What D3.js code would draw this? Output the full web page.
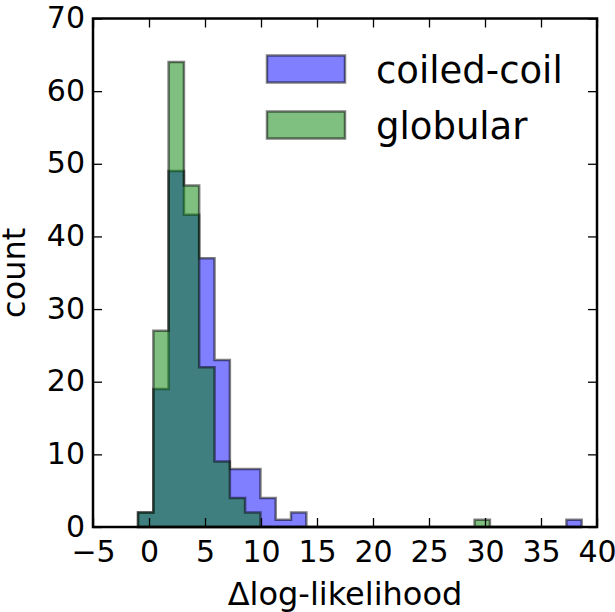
<!DOCTYPE html>
<html>
<head>
<meta charset="utf-8">
<script src="https://cdn.jsdelivr.net/npm/d3@7"></script>
<style>
  body { margin: 0; background: #fff; }
  text { font-family: "DejaVu Sans", sans-serif; fill: #000; }
</style>
</head>
<body>
<div id="chart"></div>
<script>
var width = 615;
var height = 612;
var margin = { top: 18.5, right: 18, bottom: 85, left: 93 };

// histogram bin edges (shared by both series)
var binEdges = [-0.98, 0.39, 1.75, 3.12, 4.48, 5.85, 7.22, 8.58, 9.95, 11.31,
                12.68, 14.05, 15.41, 16.78, 18.14, 19.51, 20.88, 22.24, 23.61, 24.97,
                26.34, 27.71, 29.07, 30.44, 31.80, 33.17, 34.54, 35.90, 37.27, 38.63];
var coiledCounts = [2, 19, 49, 43, 37, 23, 8, 8, 4, 1, 2, 0, 0, 0, 0, 0, 0, 0, 0, 0, 0, 0, 0, 0, 0, 0, 0, 0, 1];
var globularCounts = [2, 27, 64, 47, 22, 9, 4, 2, 0, 0, 0, 0, 0, 0, 0, 0, 0, 0, 0, 0, 0, 0, 1, 0, 0, 0, 0, 0, 0];
var seriesNames = ['coiled-coil', 'globular'];
var seriesColors = ['rgba(0,0,255,0.5)', 'rgba(0,128,0,0.5)'];
var xTicks = [-5, 0, 5, 10, 15, 20, 25, 30, 35, 40];
var yTicks = [0, 10, 20, 30, 40, 50, 60, 70];

var svg = d3.select('#chart')
            .append('svg')
            .attr('width', width)
            .attr('height', height);

var x = d3.scaleLinear().domain([-5, 40]).range([margin.left, width - margin.right]);
var y = d3.scaleLinear().domain([0, 70]).range([height - margin.bottom, margin.top]);

// stepfilled outline of a histogram
function stepPath(counts) {
  var pts = [[x(binEdges[0]), y(0)]];
  counts.forEach(function(c, i) {
    pts.push([x(binEdges[i]), y(c)]);
    pts.push([x(binEdges[i + 1]), y(c)]);
  });
  pts.push([x(binEdges[binEdges.length - 1]), y(0)]);
  return d3.line()(pts) + 'Z';
}

[coiledCounts, globularCounts].forEach(function(counts, i) {
  svg.append('path')
    .attr('d', stepPath(counts))
    .attr('fill', seriesColors[i])
    .attr('stroke', 'rgba(0,0,0,0.5)')
    .attr('stroke-width', 2.5)
    .attr('stroke-linejoin', 'miter');
});

// axes, ticks pointing inward on all four sides
var tickLen = 9;
var xAxis = svg.append('g')
  .attr('transform', 'translate(0,' + y(0) + ')')
  .call(d3.axisBottom(x).tickValues(xTicks).tickSizeInner(-tickLen).tickSizeOuter(0).tickPadding(0));
var yAxis = svg.append('g')
  .attr('transform', 'translate(' + x(-5) + ',0)')
  .call(d3.axisLeft(y).tickValues(yTicks).tickSizeInner(-tickLen).tickSizeOuter(0).tickPadding(8));
var topAxis = svg.append('g')
  .attr('transform', 'translate(0,' + y(70) + ')')
  .call(d3.axisTop(x).tickValues(xTicks).tickSizeInner(-tickLen).tickSizeOuter(0).tickFormat(''));
var rightAxis = svg.append('g')
  .attr('transform', 'translate(' + x(40) + ',0)')
  .call(d3.axisRight(y).tickValues(yTicks).tickSizeInner(-tickLen).tickSizeOuter(0).tickFormat(''));

[xAxis, yAxis, topAxis, rightAxis].forEach(function(g) {
  g.select('.domain').remove();
  g.selectAll('.tick line').attr('stroke', '#000').attr('stroke-width', 1.3);
  g.selectAll('.tick text').style('font-size', '30px').attr('fill', '#000');
});
xAxis.selectAll('.tick text').attr('y', 35).attr('dy', null);
yAxis.selectAll('.tick text').attr('dy', '0.3em');

// frame
svg.append('rect')
  .attr('x', x(-5))
  .attr('y', y(70))
  .attr('width', x(40) - x(-5))
  .attr('height', y(0) - y(70))
  .attr('fill', 'none')
  .attr('stroke', '#000')
  .attr('stroke-width', 2.5);

// axis labels
svg.append('text')
  .attr('x', (x(-5) + x(40)) / 2)
  .attr('y', 605)
  .attr('text-anchor', 'middle')
  .style('font-size', '32px')
  .text('\u0394log-likelihood');

svg.append('text')
  .attr('transform', 'translate(25,' + (y(0) + y(70)) / 2 + ') rotate(-90)')
  .attr('text-anchor', 'middle')
  .style('font-size', '32px')
  .text('count');

// legend
var legend = svg.selectAll('.legend')
  .data(seriesNames)
  .enter().append('g')
  .attr('class', 'legend')
  .attr('transform', function(d, i) { return 'translate(0,' + (i * 56) + ')'; });

legend.append('rect')
  .attr('x', 267)
  .attr('y', 55.5)
  .attr('width', 78)
  .attr('height', 27)
  .attr('fill', function(d, i) { return seriesColors[i]; })
  .attr('stroke', 'rgba(0,0,0,0.5)')
  .attr('stroke-width', 2.5);

legend.append('text')
  .attr('x', 376)
  .attr('y', 82.5)
  .style('font-size', '37px')
  .text(function(d) { return d; });
</script>
</body>
</html>
